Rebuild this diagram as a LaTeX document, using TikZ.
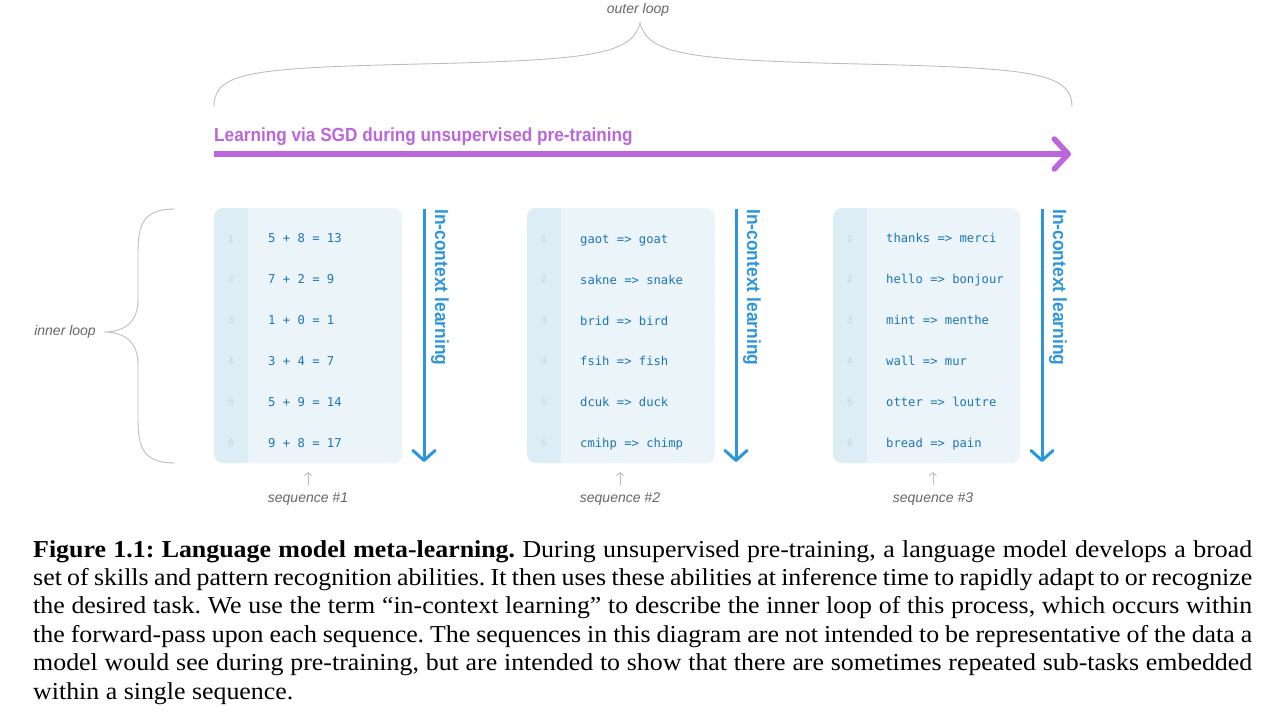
\documentclass[tikz,border=0pt]{standalone}
\usepackage{fontspec}
\setmainfont{Liberation Serif}
\newfontfamily\capfont[FakeStretch=1.065]{Liberation Serif}
\newfontfamily\sansf{Liberation Sans}
\newfontfamily\sanspurp[FakeStretch=0.905]{Liberation Sans}
\newfontfamily\sansicl[FakeStretch=0.92]{Liberation Sans}
\newfontfamily\monof{DejaVu Sans Mono}
\usetikzlibrary{arrows.meta}
\definecolor{purp}{HTML}{BB66DA}
\definecolor{arrblue}{HTML}{2B96DB}
\definecolor{codeblue}{HTML}{1C76B8}
\definecolor{boxfill}{HTML}{EBF4F8}
\definecolor{stripfill}{HTML}{DDEDF5}
\definecolor{numgray}{HTML}{C5D3DB}
\definecolor{bracegray}{HTML}{BDBDBD}
\definecolor{labelgray}{HTML}{666666}
\begin{document}
\begin{tikzpicture}[x=1pt,y=-1pt,
  seqbox/.style={fill=boxfill, rounded corners=9pt, draw=none, inner sep=0, anchor=north west, minimum height=255pt},
  codetxt/.style={anchor=base west, inner sep=0, font=\monof\fontsize{12.2}{14}\selectfont, text=codeblue},
  numtxt/.style={anchor=base, inner sep=0, font=\sansf\fontsize{10}{12}\selectfont, text=numgray},
  bracepath/.style={draw=bracegray, line width=0.9pt},
  graylabel/.style={inner sep=0, font=\sansf\itshape\fontsize{14}{16}\selectfont, text=labelgray},
  icl/.style={rotate=-90, anchor=west, inner sep=0, font=\sansicl\bfseries\fontsize{19}{21}\selectfont, text=arrblue},
  iclarrow/.style={draw=arrblue, line width=3pt, -{Straight Barb[length=10pt,width=22pt,round]}},
  seqarrow/.style={draw=bracegray, line width=0.9pt, -{Straight Barb[length=3pt,width=7pt]}},
  sgdarrow/.style={draw=purp, line width=5.5pt, -{Straight Barb[length=14pt,width=30pt,round]}},
  capline/.style={anchor=base west, inner sep=0, font=\capfont\fontsize{24.3}{28.4}\selectfont\frenchspacing}
]
\useasboundingbox (0,0) rectangle (1280,714);

% outer loop
\node[graylabel] (outer) at (638,10) {outer loop};
\draw[bracepath] (214,107) .. controls (214,72) and (250,68) .. (420,64)
  .. controls (590,60) and (632,55) .. (640,23)
  .. controls (648,55) and (690,60) .. (860,64)
  .. controls (1030,68) and (1072,72) .. (1072,107);

% SGD arrow
\node[anchor=base west, inner sep=0, font=\sanspurp\bfseries\fontsize{19}{21}\selectfont, text=purp] (sgdlabel) at (214,142) {Learning via SGD during unsupervised pre-training};
\coordinate (sgds) at (214,154);
\coordinate (sgde) at (1071,154);
\draw[sgdarrow] (sgds) -- (sgde);

% inner loop
\node[graylabel, anchor=east] (inner) at (96,332) {inner loop};
\draw[bracepath] (175,209) .. controls (145,209) and (138,222) .. (138,252) -- (138,300)
  .. controls (138,324) and (122,332) .. (104,332)
  .. controls (122,332) and (138,340) .. (138,364) -- (138,420)
  .. controls (138,450) and (145,463) .. (175,463);

% boxes
\foreach \i/\xa/\xb in {1/214/402, 2/527/715, 3/833/1020}{
  \node[seqbox, minimum width={\xb-\xa}] (box\i) at (\xa,208) {};
  \begin{scope}
    \clip[rounded corners=9pt] (\xa,208) rectangle (\xb,463);
    \fill[stripfill] (\xa,208) rectangle (\xa+34,463);
  \end{scope}
  \foreach \k in {1,...,6}{
    \node[numtxt] (num\i-\k) at (\xa+17,{238.5+40.8*(\k-1)+3.6}) {\k};
  }
}

\foreach \t [count=\k] in {{5 + 8 = 13},{7 + 2 = 9},{1 + 0 = 1},{3 + 4 = 7},{5 + 9 = 14},{9 + 8 = 17}}{
  \node[codetxt] (codeA-\k) at (268,{238.5+40.8*(\k-1)+4.5}) {\t};
}
\foreach \t [count=\k] in {{gaot => goat},{sakne => snake},{brid => bird},{fsih => fish},{dcuk => duck},{cmihp => chimp}}{
  \node[codetxt] (codeB-\k) at (580,{239+40.8*(\k-1)+4.5}) {\t};
}
\foreach \t [count=\k] in {{thanks => merci},{hello => bonjour},{mint => menthe},{wall => mur},{otter => loutre},{bread => pain}}{
  \node[codetxt] (codeC-\k) at (886,{238.5+40.8*(\k-1)+4.5}) {\t};
}

% in-context arrows
\foreach \i/\ax in {1/424, 2/736, 3/1042}{
  \coordinate (icls\i) at (\ax,209);
  \coordinate (icle\i) at (\ax,462);
  \draw[iclarrow] (icls\i) -- (icle\i);
  \node[icl] (icl\i) at (\ax+16,209) {In-context learning};
}

% sequence labels
\foreach \i/\sx in {1/308, 2/620, 3/933}{
  \node[graylabel] (seq\i) at (\sx,499) {sequence \#\i};
  \coordinate (seqa\i) at (\sx,485);
  \coordinate (seqb\i) at (\sx,472);
  \draw[seqarrow] (seqa\i) -- (seqb\i);
}

% caption
\node[capline] (cap1) at (33,557) {\makebox[1219pt][s]{\textbf{Figure 1.1: Language model meta-learning.} During unsupervised pre-training, a language model develops a broad}};
\node[capline] (cap2) at (33,585.4) {\makebox[1219pt][s]{set of skills and pattern recognition abilities. It then uses these abilities at inference time to rapidly adapt to or recognize}};
\node[capline] (cap3) at (33,613.8) {\makebox[1219pt][s]{the desired task. We use the term “in-context learning” to describe the inner loop of this process, which occurs within}};
\node[capline] (cap4) at (33,642.2) {\makebox[1219pt][s]{the forward-pass upon each sequence. The sequences in this diagram are not intended to be representative of the data a}};
\node[capline] (cap5) at (33,670.6) {\makebox[1219pt][s]{model would see during pre-training, but are intended to show that there are sometimes repeated sub-tasks embedded}};
\node[capline] (cap6) at (33,699) {within a single sequence.};
\end{tikzpicture}
\end{document}
